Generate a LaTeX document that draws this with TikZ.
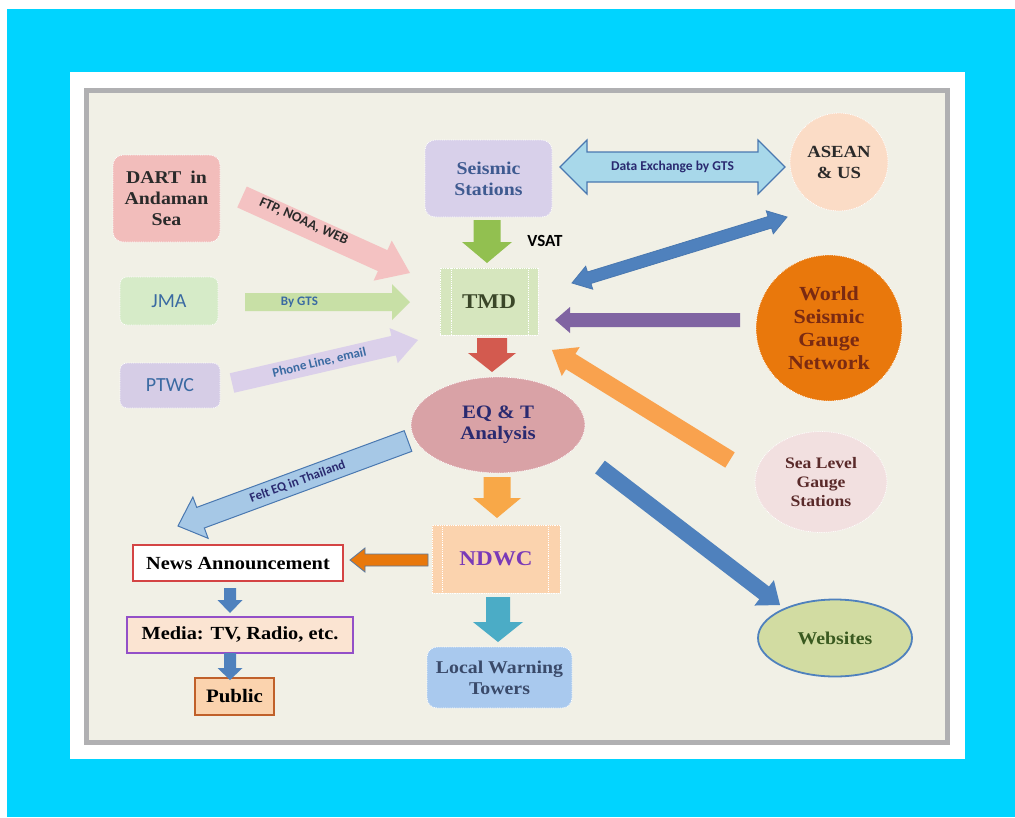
\documentclass[tikz,border=0pt]{standalone}
\usepackage{fontspec}
\setmainfont{Liberation Serif}
\newfontfamily\serb{Liberation Serif}[FakeStretch=1.1]
\newfontfamily\carl{Carlito}
\usetikzlibrary{calc,shapes.geometric}
\newcommand\setfs[2]{\fontsize{#1}{#2}\selectfont}
% block arrow: [style]{from}{to}{half shaft}{half head}{head length}
\newcommand\barrow[6][]{%
  \coordinate (bh) at ($(#3)!#6!(#2)$);
  \path[#1] ($(#2)!#4!90:(#3)$) -- ($(bh)!#4!90:(#3)$) -- ($(bh)!#5!90:(#3)$) -- (#3)
    -- ($(bh)!#5!-90:(#3)$) -- ($(bh)!#4!-90:(#3)$) -- ($(#2)!#4!-90:(#3)$) -- cycle;
}
\newcommand\dbarrow[6][]{%
  \coordinate (bha) at ($(#3)!#6!(#2)$);
  \coordinate (bhb) at ($(#2)!#6!(#3)$);
  \path[#1] (#2) -- ($(bhb)!#5!90:(#3)$) -- ($(bhb)!#4!90:(#3)$) -- ($(bha)!#4!90:(#3)$)
    -- ($(bha)!#5!90:(#3)$) -- (#3) -- ($(bha)!#5!-90:(#3)$) -- ($(bha)!#4!-90:(#3)$)
    -- ($(bhb)!#4!-90:(#3)$) -- ($(bhb)!#5!-90:(#3)$) -- cycle;
}
\definecolor{cyanbg}{HTML}{00D4FF}
\definecolor{framec}{HTML}{B0B0B2}
\definecolor{paper}{HTML}{F1F0E6}
\definecolor{dartc}{HTML}{F2BDBB}
\definecolor{jmac}{HTML}{D6EBC8}
\definecolor{ptwcc}{HTML}{D6CDE6}
\definecolor{seisc}{HTML}{D8D0EA}
\definecolor{tmdc}{HTML}{D6E6BE}
\definecolor{aseanc}{HTML}{FBDCC6}
\definecolor{worldc}{HTML}{E9780C}
\definecolor{seac}{HTML}{F2E0E0}
\definecolor{eqc}{HTML}{D9A2A6}
\definecolor{ndwcc}{HTML}{FBD3AE}
\definecolor{localc}{HTML}{A9C9EE}
\definecolor{webc}{HTML}{D2DCA2}
\definecolor{mediac}{HTML}{FBE4D2}
\definecolor{publicc}{HTML}{FBD3AE}
\definecolor{pinkarr}{HTML}{F4C2C2}
\definecolor{greenarr}{HTML}{C8E0A6}
\definecolor{lavarr}{HTML}{DBD0EA}
\definecolor{ltblue}{HTML}{A8D8EA}
\definecolor{feltc}{HTML}{A6C8E6}
\definecolor{blueedge}{HTML}{4A78B0}
\definecolor{bluearr}{HTML}{4F81BD}
\definecolor{vsatc}{HTML}{92C050}
\definecolor{purarr}{HTML}{8064A2}
\definecolor{redarr}{HTML}{D35A4F}
\definecolor{orarr}{HTML}{F9A24E}
\definecolor{ordown}{HTML}{F8A848}
\definecolor{ordark}{HTML}{E8780C}
\definecolor{tealarr}{HTML}{4BACC6}
\definecolor{txtblue}{HTML}{3A6AA2}
\definecolor{txtseis}{HTML}{3E5A90}
\definecolor{txttmd}{HTML}{3A4628}
\definecolor{txtworld}{HTML}{7A2A12}
\definecolor{txtsea}{HTML}{5A2A2A}
\definecolor{txteq}{HTML}{2A2A70}
\definecolor{txtndwc}{HTML}{7A3AB8}
\definecolor{txtlocal}{HTML}{3A4A6A}
\definecolor{txtweb}{HTML}{3A5A20}
\definecolor{txtdark}{HTML}{2A2A2A}
\definecolor{newsred}{HTML}{D44444}
\definecolor{mediapur}{HTML}{9350C8}
\definecolor{pubedge}{HTML}{C0602A}
\tikzset{
  shp/.style={inner sep=0pt, align=center, draw=white, densely dotted, line width=0.8pt},
  rbox/.style={shp, rectangle, rounded corners=10pt},
  sbox/.style={shp, rectangle},
  ebox/.style={shp, ellipse},
  sertxt/.style={font=\serb\bfseries\setfs{#1}{21}},
  sanstxt/.style={font=\carl\setfs{#1}{#1}},
  alabel/.style={sloped, font=\carl\bfseries\setfs{#1}{#1}},
  alabel/.default=13,
  procline/.style={draw=white, densely dotted, line width=1.2pt}
}
\begin{document}
\begin{tikzpicture}[x=1pt,y=-1pt]
\useasboundingbox (0,0) rectangle (1015,817);
\fill[white] (0,0) rectangle (1015,817);
\fill[cyanbg] (7,9) rectangle (1015,817);
\fill[white] (70,72) rectangle (965,759);
\draw[line width=5pt, draw=framec, fill=paper] (86.5,90.5) rectangle (947.5,742.5);

% ---------- nodes ----------
\node[rbox, fill=dartc, minimum width=107pt, minimum height=87pt, text=txtdark, sertxt=18] (dart) at (166.5,198.5) {DART\enspace in\\Andaman\\Sea};
\node[rbox, rounded corners=7pt, fill=jmac, minimum width=98pt, minimum height=48pt, text=txtblue, sanstxt=20] (jma) at (169,301) {JMA};
\node[rbox, rounded corners=7pt, fill=ptwcc, minimum width=100pt, minimum height=45pt, text=txtblue, sanstxt=20] (ptwc) at (170,385.5) {PTWC};
\node[rbox, fill=seisc, minimum width=127pt, minimum height=77pt, text=txtseis, sertxt=18] (seis) at (488.5,178.5) {Seismic\\Stations};
\node[sbox, fill=tmdc, minimum width=98pt, minimum height=67pt, text=txttmd, sertxt=21] (tmd) at (489,301.5) {TMD};
\node[shp, circle, fill=aseanc, minimum size=98pt, text=txtdark, sertxt=17] (asean) at (839,162) {ASEAN\\\& US};
\node[shp, circle, fill=worldc, minimum size=146pt, text=txtworld, font=\serb\bfseries\setfs{20}{23}] (world) at (829,328) {World\\Seismic\\Gauge\\Network};
\node[ebox, fill=seac, minimum width=132pt, minimum height=101pt, text=txtsea, font=\serb\bfseries\setfs{16}{19}] (sea) at (821,482) {Sea Level\\Gauge\\Stations};
\node[ebox, fill=eqc, minimum width=174pt, minimum height=96pt, text=txteq, sertxt=19] (eq) at (498,425) {EQ \& T\\Analysis};
\node[sbox, fill=ndwcc, minimum width=128pt, minimum height=68pt, text=txtndwc, sertxt=21] (ndwc) at (496,559) {NDWC};
\node[sbox, draw=newsred, solid, line width=2pt, fill=white, minimum width=210pt, minimum height=36pt, text=black, sertxt=18.5] (news) at (238,563) {News Announcement};
\node[sbox, draw=mediapur, solid, line width=2.2pt, fill=mediac, minimum width=226pt, minimum height=36pt, text=black, sertxt=18.5] (media) at (240,635) {Media: TV, Radio, etc.};
\node[sbox, draw=pubedge, solid, line width=2.5pt, fill=publicc, minimum width=79pt, minimum height=37pt, text=black, sertxt=19] (public) at (234.5,696.5) {Public};
\node[rbox, fill=localc, minimum width=145pt, minimum height=61pt, text=txtlocal, font=\serb\bfseries\setfs{18}{21}] (local) at (499.5,677.5) {Local Warning\\Towers};
\node[ebox, draw=bluearr, solid, line width=1.8pt, fill=webc, minimum width=154pt, minimum height=77pt, text=txtweb, sertxt=18] (web) at (835,638) {Websites};

% process-shape side lines
\draw[procline] ([xshift=12pt]tmd.north west) -- ([xshift=12pt]tmd.south west);
\draw[procline] ([xshift=-10pt]tmd.north east) -- ([xshift=-10pt]tmd.south east);
\draw[procline] ([xshift=11pt]ndwc.north west) -- ([xshift=11pt]ndwc.south west);
\draw[procline] ([xshift=-12pt]ndwc.north east) -- ([xshift=-12pt]ndwc.south east);

% ---------- connector end points ----------
\coordinate (dartS) at (242,197);  \coordinate (dartE) at (410,273);
\coordinate (jmaS) at (245,302);   \coordinate (jmaE) at (410,302);
\coordinate (ptwcS) at (232,383);  \coordinate (ptwcE) at (418,340);
\coordinate (seisR) at (560,167);  \coordinate (aseanL) at (785,167);
\coordinate (seisD) at (487,220);  \coordinate (tmdU) at (487,263);
\coordinate (tmdR) at (572,283);   \coordinate (aseanB) at (787,217);
\coordinate (worldL) at (740,320); \coordinate (tmdR2) at (555,320);
\coordinate (tmdD) at (492,338);   \coordinate (eqU) at (492,372);
\coordinate (seaL) at (730,460);   \coordinate (tmdBR) at (552,350);
\coordinate (eqL) at (408,441);    \coordinate (newsUR) at (178,526);
\coordinate (eqD) at (497,477);    \coordinate (ndwcU) at (497,518);
\coordinate (ndwcL) at (428,560);  \coordinate (newsR) at (350,560);
\coordinate (newsD) at (230,588);  \coordinate (mediaU) at (230,613);
\coordinate (mediaD) at (230,653); \coordinate (publicU) at (230,680);
\coordinate (ndwcD) at (498,597);  \coordinate (localU) at (498,642);
\coordinate (eqR) at (600,467);    \coordinate (webUL) at (780,605);

% ---------- block arrows ----------
\barrow[fill=pinkarr]{dartS}{dartE}{11.5pt}{22pt}{30pt}
\path (dartS) -- (dartE) node[alabel=14, pos=0.36, yshift=3pt, text=txtdark] {FTP, NOAA, WEB};
\barrow[fill=greenarr]{jmaS}{jmaE}{9pt}{18pt}{18pt}
\path (jmaS) -- (jmaE) node[alabel, pos=0.33, text=txtblue] {By GTS};
\barrow[fill=lavarr]{ptwcS}{ptwcE}{10pt}{18pt}{25pt}
\path (ptwcS) -- (ptwcE) node[alabel, pos=0.47, text=txtblue] {Phone Line, email};

\dbarrow[fill=ltblue, draw=blueedge, line width=1.2pt]{seisR}{aseanL}{15pt}{27pt}{27pt}
\path (seisR) -- (aseanL) node[alabel=13.5, midway, text=txteq] {Data Exchange by GTS};

\barrow[fill=vsatc]{seisD}{tmdU}{13.5pt}{25pt}{21pt}
\node[font=\carl\bfseries\setfs{17}{17}, text=black] (vsat) at (545,241) {VSAT};

\dbarrow[fill=bluearr, draw=blueedge, line width=0.8pt]{tmdR}{aseanB}{6pt}{12pt}{18pt}
\barrow[fill=purarr]{worldL}{tmdR2}{7pt}{13pt}{15pt}
\barrow[fill=redarr]{tmdD}{eqU}{15pt}{24pt}{19pt}
\barrow[fill=orarr]{seaL}{tmdBR}{9pt}{17pt}{22pt}

\barrow[fill=feltc, draw=blueedge, line width=1pt]{eqL}{newsUR}{11pt}{22pt}{24pt}
\path (eqL) -- (newsUR) node[alabel, pos=0.48, text=txteq] {Felt EQ in Thailand};

\barrow[fill=ordown]{eqD}{ndwcU}{13.5pt}{24pt}{20pt}
\barrow[fill=ordark, draw=blueedge!70!gray, line width=0.8pt]{ndwcL}{newsR}{6pt}{12pt}{15pt}
\barrow[fill=bluearr]{newsD}{mediaU}{6pt}{12.5pt}{13pt}
\barrow[fill=bluearr]{mediaD}{publicU}{6pt}{12.5pt}{12pt}
\barrow[fill=tealarr]{ndwcD}{localU}{12pt}{25pt}{20pt}
\barrow[fill=bluearr]{eqR}{webUL}{8pt}{16pt}{20pt}
\end{tikzpicture}
\end{document}
